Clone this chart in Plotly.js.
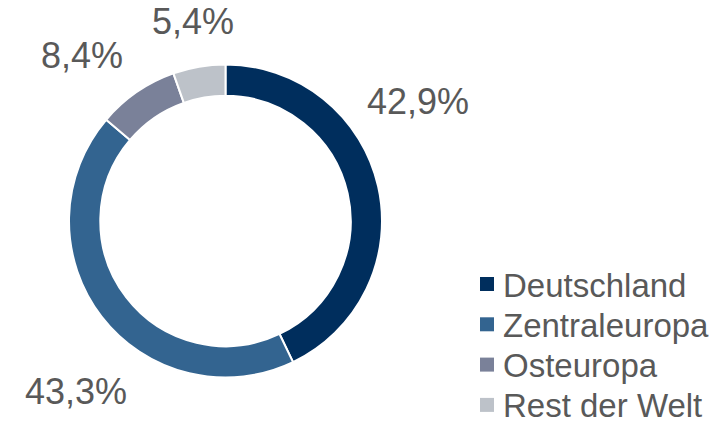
<!DOCTYPE html>
<html>
<head>
<meta charset="utf-8">
<script src="https://cdn.plot.ly/plotly-3.0.1.min.js"></script>
<style>html,body{margin:0;padding:0;background:#fff;}#chart{width:713px;height:423px;}</style>
</head>
<body>
<div id="chart"></div>
<script>
const categories = ["Deutschland", "Zentraleuropa", "Osteuropa", "Rest der Welt"];
const shares = [42.9, 43.3, 8.4, 5.4];
const colors = ["#002E5D", "#336490", "#7A8199", "#BDC2C9"];
const labelPositions = [[418, 101], [76, 391], [82, 56], [193, 22]];

const W = 713, H = 423;
const FONT = "Liberation Sans, Arial, sans-serif";
const TEXT = "#595959";
const fmt = v => v.toFixed(1).replace(".", ",") + "%";

const trace = {
  type: "pie",
  labels: categories,
  values: shares,
  sort: false,
  direction: "clockwise",
  rotation: 0,
  hole: 0.8,
  textinfo: "none",
  hoverinfo: "label+percent",
  showlegend: false,
  marker: { colors: colors, line: { color: "#ffffff", width: 2 } },
  domain: { x: [69 / W, 382 / W], y: [1 - 377.5 / H, 1 - 64.5 / H] }
};

const annotations = shares.map((v, i) => ({
  text: fmt(v),
  x: labelPositions[i][0] / W,
  y: 1 - labelPositions[i][1] / H,
  xref: "paper", yref: "paper",
  xanchor: "center", yanchor: "middle",
  showarrow: false,
  font: { family: FONT, size: 36, color: TEXT }
}));

// legend block (built from categories/colors)
const legX = 480, legY0 = 284, legStep = 40.3, sw = 14;
const shapes = [];
categories.forEach((c, i) => {
  const cy = legY0 + i * legStep;
  shapes.push({
    type: "rect", xref: "paper", yref: "paper",
    x0: legX / W, x1: (legX + sw) / W,
    y0: 1 - (cy + sw / 2) / H, y1: 1 - (cy - sw / 2) / H,
    fillcolor: colors[i], line: { width: 0 }
  });
  annotations.push({
    text: c,
    x: (legX + sw + 7) / W, y: 1 - (cy + 1) / H,
    xref: "paper", yref: "paper",
    xanchor: "left", yanchor: "middle",
    showarrow: false,
    font: { family: FONT, size: 33, color: TEXT }
  });
});

const layout = {
  width: W, height: H,
  margin: { l: 0, r: 0, t: 0, b: 0 },
  paper_bgcolor: "#ffffff",
  showlegend: false,
  annotations: annotations,
  shapes: shapes
};

Plotly.newPlot("chart", [trace], layout, { displayModeBar: false, staticPlot: true });
</script>
</body>
</html>
